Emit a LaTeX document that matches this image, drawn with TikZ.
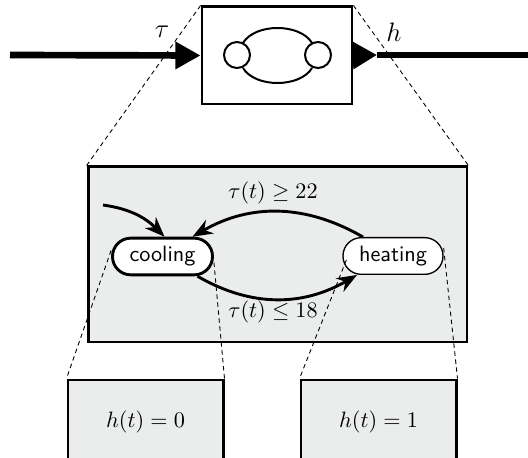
\documentclass[tikz,border=0pt]{standalone}
\usepackage{amsmath,amssymb}
\usepackage{xcolor}
\usetikzlibrary{arrows.meta,calc}
\definecolor{panelgray}{HTML}{EBECEC}

\tikzset{
  signal/.style={line width=3pt},
  plantbox/.style={draw,line width=1.3pt,minimum width=67.5pt,minimum height=43.7pt},
  panel/.style={draw,fill=panelgray,line width=1.3pt,inner sep=0pt},
  mode/.style={draw,fill=white,rounded corners=8.2pt,minimum width=45pt,minimum height=16.5pt,font=\sffamily},
  trans/.style={line width=1.3pt,-{Stealth[length=9pt,width=7pt]}},
  zoomline/.style={line width=0.4pt,dash pattern=on 2pt off 1.6pt}
}

\begin{document}
\begin{tikzpicture}[x=0.45pt,y=0.45pt]
    \clip (0,0) rectangle (528,457);

    % hybrid plant with input and output
    \node[plantbox] (plant) at (277,401.5) {};
    \coordinate (tauin) at (10,402);
    \coordinate (htip) at (377,402);
    \coordinate (hout) at (530,402);
    \draw[signal,-{Triangle[length=11.3pt,width=11.7pt]}] (tauin) -- (plant.west);
    \draw[signal,-{Triangle[length=10.8pt,width=11.7pt]}] (plant.east) -- (htip);
    \draw[signal] (htip) -- (hout);
    \node[font=\large] at (162,425) {$\tau$};
    \node[font=\large] at (394,425) {$h$};

    % icon
    \draw[line width=0.9pt] (237,402) circle[radius=5.85pt];
    \draw[line width=0.9pt] (318,402) circle[radius=5.85pt];
    \draw[line width=0.9pt] (243,414) .. controls (255,434) and (300,434) .. (312,414);
    \draw[line width=0.9pt] (243,389) .. controls (255,369) and (300,369) .. (312,389);

    % automaton
    \node[panel,minimum width=170.5pt,minimum height=78.8pt] (chart) at (277.5,202.5) {};
    \draw[zoomline] (plant.north west) -- (chart.north west);
    \draw[zoomline] (plant.north east) -- (chart.north east);

    \node[mode,line width=1.3pt] (cooling) at (162.5,200.5) {cooling};
    \node[mode,line width=0.6pt] (heating) at (393,201) {heating};
    \coordinate (init) at (103,252);

    \draw[trans] (init) to[out=-8,in=135] ($(cooling.north)+(2,0)$);
    \draw[trans] ($(heating.north)+(-30,0)$) to[out=150,in=30] ($(cooling.north)+(30,0)$);
    \draw[trans] ($(cooling.south)+(35,0)$) to[out=-30,in=210] ($(heating.south)+(-36,0)$);
    \node at (273,264) {$\tau(t)\geq 22$};
    \node at (273,145) {$\tau(t)\leq 18$};

    % outputs per mode
    \node[panel,minimum width=69.8pt,minimum height=37.8pt] (off) at (145.5,35) {$h(t)=0$};
    \node[panel,minimum width=69.8pt,minimum height=37.8pt] (on) at (378.5,35) {$h(t)=1$};
    \draw[zoomline] ($(cooling.west)+(0,6)$) -- (off.north west);
    \draw[zoomline] ($(cooling.east)+(0,-6)$) -- (off.north east);
    \draw[zoomline] ($(heating.west)+(4,-4)$) -- (on.north west);
    \draw[zoomline] ($(heating.east)+(0,8)$) -- (on.north east);
\end{tikzpicture}
\end{document}
